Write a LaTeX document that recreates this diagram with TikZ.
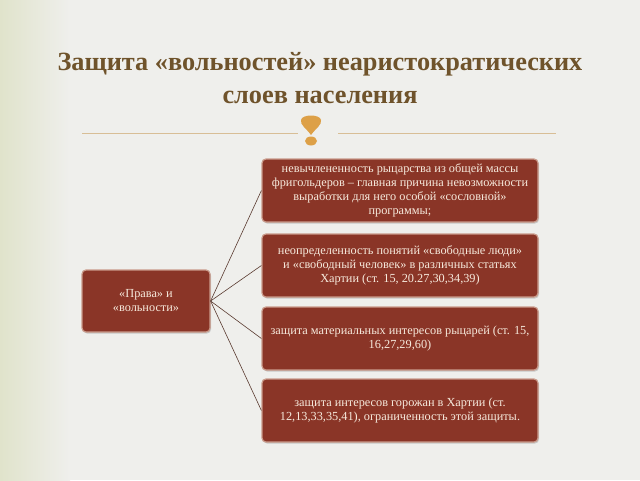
\documentclass[tikz,border=0pt]{standalone}
\usepackage{fontspec}
\setmainfont{Liberation Serif}
\usetikzlibrary{shadows}
\definecolor{bgpage}{HTML}{EFEFEC}
\definecolor{bgedge}{HTML}{E0E3CB}
\definecolor{titlebrown}{HTML}{6F532B}
\definecolor{ornament}{HTML}{DDA047}
\definecolor{rulegold}{HTML}{D8BE96}
\definecolor{boxred}{HTML}{8A3527}
\definecolor{boxrim}{HTML}{C99A8A}
\definecolor{boxtext}{HTML}{F6E9DC}
\definecolor{linkbrown}{HTML}{5A3A30}

\begin{document}
\begin{tikzpicture}[x=1pt,y=-1pt,
    box/.style={draw=boxrim, line width=1.2pt, fill=boxred, rounded corners=4pt,
                drop shadow={shadow xshift=1pt, shadow yshift=-1.5pt, opacity=0.35},
                text=boxtext, align=center, font=\fontsize{12.3}{14}\selectfont,
                inner sep=3pt},
    wide/.style={box, minimum width=276pt, minimum height=63pt},
    link/.style={draw=linkbrown, line width=0.6pt}]
    % page
    \fill[bgpage] (0,0) rectangle (640,480);
    \shade[left color=bgedge, right color=bgpage] (0,0) rectangle (70,480);
    \useasboundingbox (0,0) rectangle (640,480);
    % title
    \node[text=titlebrown, font=\fontsize{26.3}{33}\selectfont\bfseries, align=center] (title) at (320,78)
        {Защита «вольностей» неаристократических\\слоев населения};
    % ornament
    \draw[rulegold, line width=0.8pt] (82,133) -- (298,133);
    \draw[rulegold, line width=0.8pt] (338,133) -- (556,133);
    \fill[ornament] (311,135) .. controls (306,128) and (300,125) .. (301,120)
        .. controls (302,114) and (320,114) .. (321,120)
        .. controls (322,125) and (316,128) .. (311,135) -- cycle;
    \fill[ornament] (311,141) ellipse (6pt and 4.5pt);
    % boxes
    \node[box, minimum width=128pt, minimum height=62pt] (rights) at (146,301)
        {«Права» и\\«вольности»};
    \node[wide] (b1) at (400,190.5)
        {невычлененность рыцарства из общей массы\\фригольдеров – главная причина невозможности\\выработки для него особой «сословной»\\программы;};
    \node[wide] (b2) at (400,265.5)
        {неопределенность понятий «свободные люди»\\и «свободный человек» в различных статьях\\Хартии (ст. 15, 20.27,30,34,39)};
    \node[wide] (b3) at (400,338.5)
        {защита материальных интересов рыцарей (ст. 15,\\16,27,29,60)};
    \node[wide] (b4) at (400,410.5)
        {защита интересов горожан в Хартии (ст.\\12,13,33,35,41), ограниченность этой защиты.};
    % links
    \foreach \b in {b1,b2,b3,b4}
        \draw[link] (rights.east) -- (\b.west);
\end{tikzpicture}
\end{document}
